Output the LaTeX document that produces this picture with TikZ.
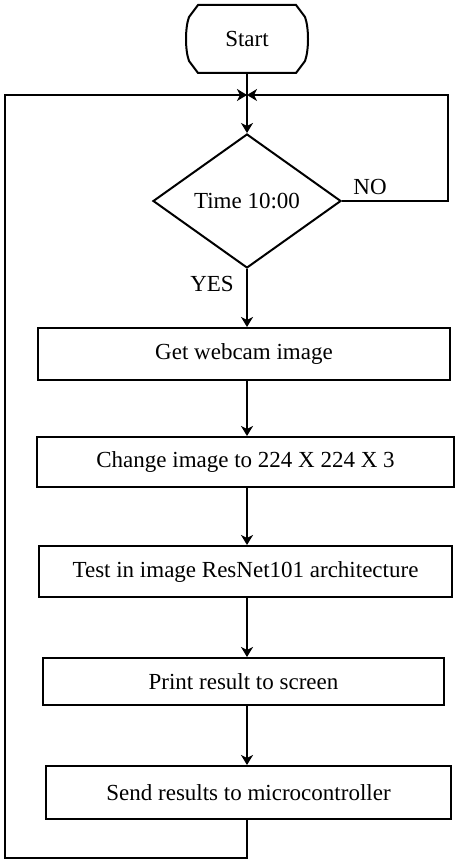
\documentclass[tikz,border=0pt]{standalone}
\usepackage{fontspec}
\setmainfont{Liberation Serif}
\usetikzlibrary{shapes.geometric,arrows.meta}
\begin{document}
\begin{tikzpicture}[x=0.5pt,y=-0.5pt,line width=1pt,
  font=\fontsize{11.5}{13}\selectfont,
  box/.style={draw,rectangle,inner sep=0pt},
  arr/.style={-{Stealth[length=5pt,width=6pt,inset=1.5pt]}}]
\useasboundingbox (0,0) rectangle (456,866);
% start and decision
\node[minimum width=61.5pt,minimum height=34pt,inner sep=0pt] (start) at (247,39) {Start};
\draw (198,5) -- (296,5) -- (305,17) .. controls (309,28) and (309,50) .. (305,61)
  -- (296,73) -- (198,73) -- (189,61) .. controls (185,50) and (185,28) .. (189,17) -- cycle;
\node[draw,diamond,minimum width=94pt,minimum height=67pt,inner sep=0pt] (time) at (247,201) {Time 10:00};
\node (no) at (370,187) {NO};
\node (yes) at (212,284) {YES};
% process boxes
\node[box,minimum width=206pt,minimum height=26pt] (webcam) at (244,354) {Get webcam image};
\node[box,minimum width=208.5pt,minimum height=25pt] (resize) at (245.5,462) {Change image to 224 X 224 X 3};
\node[box,minimum width=206.5pt,minimum height=25.5pt] (test) at (245.5,571.5) {Test in image ResNet101 architecture};
\node[box,minimum width=200.5pt,minimum height=23.5pt] (print) at (243.5,681.5) {Print result to screen};
\node[box,minimum width=202.5pt,minimum height=26.5pt] (send) at (248.5,792.5) {Send results to microcontroller};
\coordinate (join) at (247,95);
\coordinate (noend) at (448,95);
\coordinate (loopbot) at (5,858);
% connectors
\draw[arr] (start.south) -- (time.north);
\draw[arr] (time.east) -| (noend) -- (join);
\draw[arr] (time.south) -- (webcam.north -| time);
\foreach \a/\b in {webcam/resize,resize/test,test/print,print/send}
  \draw[arr] (\a.south -| time) -- (\b.north -| time);
\draw[arr] (send.south -| time) -- (time |- loopbot) -- (loopbot) |- (join);
\end{tikzpicture}
\end{document}
